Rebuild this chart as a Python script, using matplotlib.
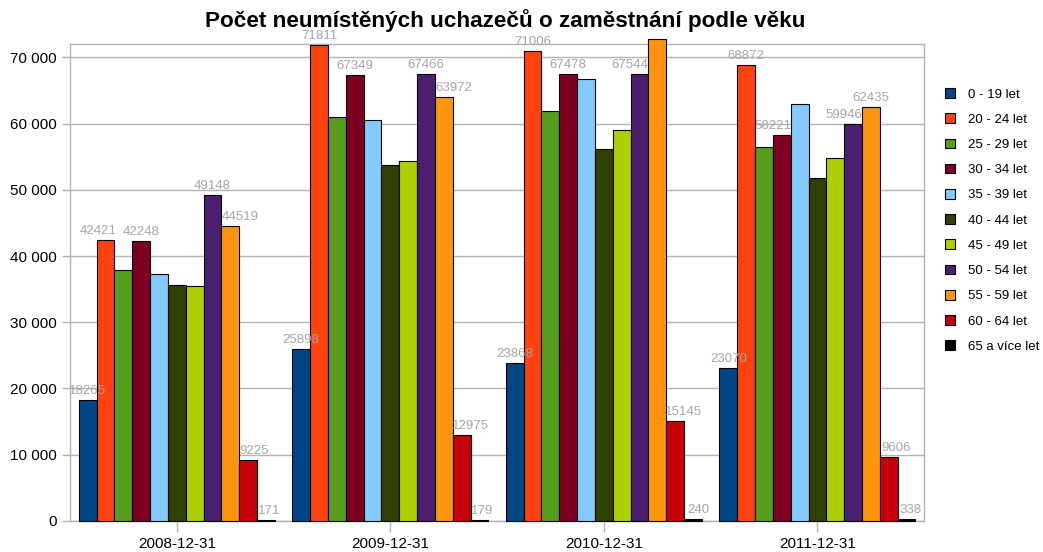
import matplotlib.pyplot as plt
from matplotlib.patches import Patch
import numpy as np

plt.rcParams['font.family'] = ['Liberation Sans', 'DejaVu Sans']

dates = ['2008-12-31', '2009-12-31', '2010-12-31', '2011-12-31']
age_groups = ['0 - 19 let', '20 - 24 let', '25 - 29 let', '30 - 34 let', '35 - 39 let',
              '40 - 44 let', '45 - 49 let', '50 - 54 let', '55 - 59 let', '60 - 64 let',
              '65 a více let']
# one list per age group, values for the four dates
v_0_19 = [18265, 25898, 23868, 23070]
v_20_24 = [42421, 71811, 71006, 68872]
v_25_29 = [37960, 61040, 61900, 56470]
v_30_34 = [42248, 67349, 67478, 58221]
v_35_39 = [37260, 60540, 66670, 63000]
v_40_44 = [35600, 53800, 56230, 51840]
v_45_49 = [35500, 54300, 58950, 54860]
v_50_54 = [49148, 67466, 67544, 59946]
v_55_59 = [44519, 63972, 72695, 62435]
v_60_64 = [9225, 12975, 15145, 9606]
v_65 = [171, 179, 240, 338]
values = [v_0_19, v_20_24, v_25_29, v_30_34, v_35_39, v_40_44,
          v_45_49, v_50_54, v_55_59, v_60_64, v_65]

colors = ['#004586', '#ff420e', '#579d1c', '#7e0021', '#83caff', '#314004',
          '#aecf00', '#4b1f6f', '#ff950e', '#c5000b', '#000000']

# series whose value labels are shown in the original
labelled = [0, 1, 3, 7, 8, 9, 10]
# label shifts (pixels) where the original moved them to avoid overlaps
shifts = {(1, 0): (-7, 0), (8, 0): (10, 0), (9, 0): (6, 0), (10, 0): (3, 0),
          (8, 1): (10, 0), (9, 1): (9, 0), (10, 1): (3, 0),
          (7, 2): (-10, 0), (8, 2): (28, -23), (9, 2): (8, 0), (10, 2): (5, 0),
          (3, 3): (-9, 0), (7, 3): (-9, 0), (9, 3): (7, 0), (10, 3): (4, 0)}

fig = plt.figure(figsize=(10.43, 5.52), dpi=100)
ax = fig.add_axes([0.0671, 0.0562, 0.819, 0.864])

x = np.arange(len(dates))
w = 0.0835
for i, vals in enumerate(values):
    pos = x + (i - 5) * w
    ax.bar(pos, vals, w, color=colors[i], edgecolor='black', linewidth=0.8,
           zorder=3, clip_on=False)
    if i in labelled:
        for j, v in enumerate(vals):
            dx, dy = shifts.get((i, j), (0, 0))
            ax.annotate(str(v), (pos[j], v), xytext=(dx, 6 + dy),
                        textcoords='offset pixels', ha='center', va='baseline',
                        fontsize=9.5, color='#a6a6a6', zorder=4)

ax.set_xlim(-0.5, 3.5)
ax.set_ylim(0, 72000)
ax.set_yticks(range(0, 70001, 10000))
ax.set_yticklabels([f'{t:,}'.replace(',', ' ') for t in range(0, 70001, 10000)])
ax.set_xticks(x)
ax.set_xticklabels(dates)
ax.tick_params(axis='both', labelsize=11, color='#b3b3b3', length=6, width=1)
ax.tick_params(axis='x', length=8)
ax.yaxis.grid(True, color='#b3b3b3', linewidth=1)
ax.set_axisbelow(True)
for s in ax.spines.values():
    s.set_color('#b3b3b3')
    s.set_linewidth(1)

fig.text(0.484, 0.962, 'Počet neumístěných uchazečů o zaměstnání podle věku',
         ha='center', va='center', fontsize=16.2, fontweight='bold')

handles = [Patch(facecolor=c, edgecolor='black', linewidth=0.8) for c in colors]
fig.legend(handles, age_groups, loc='upper left', bbox_to_anchor=(0.901, 0.85),
           frameon=False, fontsize=9.5, handlelength=0.75, handleheight=0.75,
           handletextpad=1.0, labelspacing=0.97, borderaxespad=0)

fig.savefig('out.png', dpi=100)
